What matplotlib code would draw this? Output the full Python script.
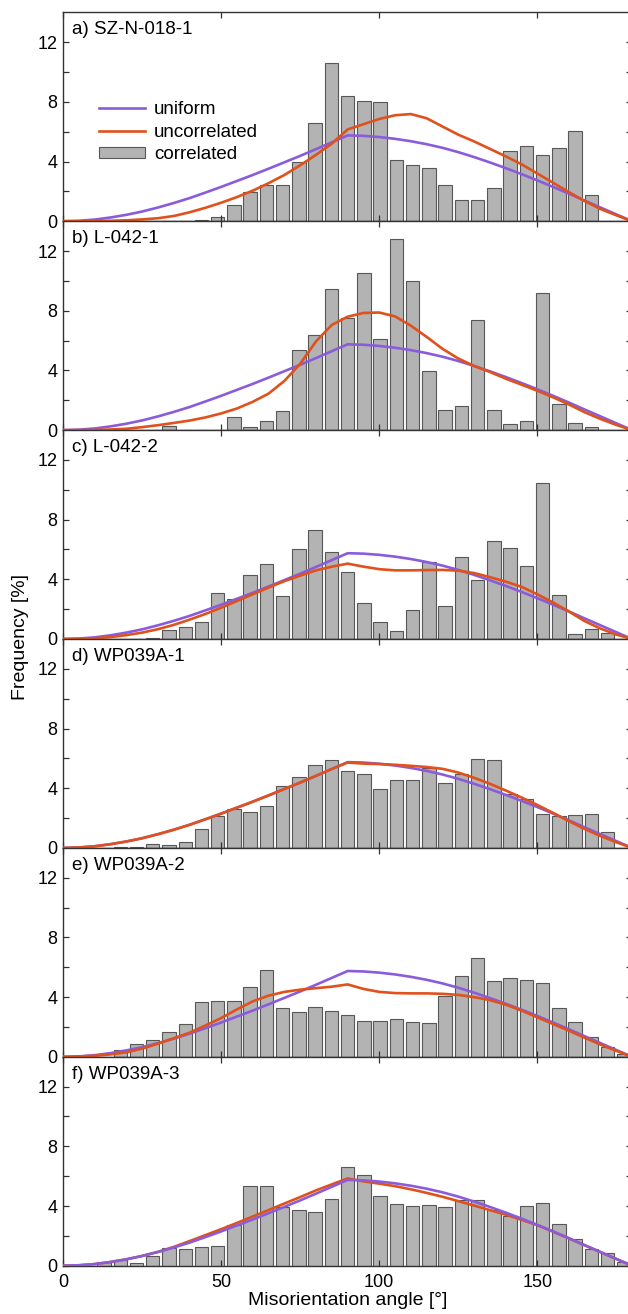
import numpy as np
import matplotlib.pyplot as plt

plt.rcParams['font.family'] = ['Liberation Sans', 'DejaVu Sans']

# 35 bins over 0-180 deg
nbins = 35
binw = 180 / nbins
centres = (np.arange(nbins) + 0.5) * binw
angles = np.arange(0, 181, 5)

panel_labels = ['a) SZ-N-018-1', 'b) L-042-1', 'c) L-042-2',
                'd) WP039A-1', 'e) WP039A-2', 'f) WP039A-3']

# uniform (random) distribution, same for all samples
uniform = [0, 0.03, 0.11, 0.25, 0.43, 0.65, 0.92, 1.22, 1.55, 1.92, 2.3, 2.7,
           3.1, 3.52, 3.95, 4.38, 4.83, 5.29, 5.75, 5.72, 5.64, 5.52, 5.36, 5.16,
           4.92, 4.63, 4.3, 3.94, 3.56, 3.16, 2.74, 2.3, 1.85, 1.38, 0.92, 0.46, 0]

# uncorrelated distributions
uncorr_a = [0, 0, 0.01, 0.03, 0.06, 0.12, 0.2, 0.35, 0.6, 0.9, 1.24, 1.62, 2.05,
            2.55, 3.1, 3.75, 4.45, 5.2, 6.15, 6.5, 6.85, 7.1, 7.18, 6.9, 6.35,
            5.8, 5.35, 4.85, 4.35, 3.82, 3.2, 2.58, 1.95, 1.35, 0.82, 0.4, 0]
uncorr_b = [0, 0, 0.01, 0.04, 0.09, 0.2, 0.33, 0.48, 0.64, 0.85, 1.12, 1.45, 1.9,
            2.45, 3.3, 4.45, 5.95, 7.05, 7.6, 7.85, 7.88, 7.62, 7.0, 6.25, 5.45,
            4.8, 4.3, 3.9, 3.45, 3.05, 2.64, 2.2, 1.72, 1.2, 0.75, 0.35, 0]
uncorr_c = [0, 0.01, 0.05, 0.13, 0.26, 0.43, 0.66, 0.95, 1.3, 1.68, 2.1, 2.55, 3.0,
            3.45, 3.88, 4.25, 4.6, 4.85, 5.05, 4.85, 4.68, 4.6, 4.6, 4.62, 4.63,
            4.58, 4.42, 4.15, 3.85, 3.5, 3.0, 2.45, 1.85, 1.2, 0.7, 0.3, 0]
uncorr_d = [0, 0.03, 0.11, 0.25, 0.43, 0.65, 0.92, 1.22, 1.55, 1.92, 2.3, 2.7, 3.1,
            3.52, 3.95, 4.38, 4.83, 5.29, 5.72, 5.65, 5.62, 5.57, 5.5, 5.42, 5.3,
            5.05, 4.7, 4.3, 3.85, 3.38, 2.88, 2.35, 1.8, 1.27, 0.8, 0.38, 0]
uncorr_e = [0, 0.02, 0.07, 0.16, 0.3, 0.55, 0.88, 1.25, 1.62, 2.1, 2.6, 3.18, 3.72,
            4.1, 4.35, 4.5, 4.6, 4.7, 4.85, 4.55, 4.35, 4.27, 4.25, 4.25, 4.22,
            4.15, 4.0, 3.8, 3.5, 3.1, 2.65, 2.2, 1.75, 1.28, 0.82, 0.4, 0]
uncorr_f = [0, 0.03, 0.11, 0.25, 0.43, 0.66, 0.93, 1.26, 1.65, 2.05, 2.45, 2.87, 3.3,
            3.73, 4.17, 4.6, 5.05, 5.45, 5.85, 5.65, 5.5, 5.33, 5.12, 4.88, 4.62,
            4.33, 4.03, 3.73, 3.42, 3.08, 2.72, 2.28, 1.83, 1.37, 0.91, 0.45, 0]

# correlated (measured) histograms
corr_a = [0, 0, 0, 0, 0, 0, 0, 0, 0.05, 0.25, 1.08, 1.93, 2.43, 2.43, 3.98, 6.58,
          10.63, 8.36, 8.07, 8.0, 4.09, 3.78, 3.57, 2.45, 1.44, 1.39, 2.2, 4.7,
          5.01, 4.43, 4.88, 6.04, 1.75, 0, 0]
corr_b = [0, 0, 0, 0, 0, 0, 0.25, 0.04, 0, 0, 0.87, 0.18, 0.63, 1.25, 5.37, 6.36,
          9.45, 7.5, 10.52, 6.13, 12.83, 10.0, 3.98, 1.34, 1.59, 7.39, 1.34, 0.43,
          0.6, 9.16, 1.72, 0.45, 0.22, 0, 0]
corr_c = [0, 0, 0, 0, 0, 0.07, 0.6, 0.83, 1.14, 3.06, 2.7, 4.31, 5.0, 2.88, 6.03,
          7.33, 5.83, 4.49, 2.39, 1.12, 0.54, 1.94, 5.18, 2.21, 5.52, 3.93, 6.57,
          6.12, 4.89, 10.46, 2.95, 0.34, 0.65, 0.38, 0]
corr_d = [0, 0, 0, 0.05, 0.07, 0.25, 0.18, 0.42, 1.27, 2.15, 2.61, 2.39, 2.82, 4.18,
          4.72, 5.54, 5.88, 5.18, 4.96, 3.93, 4.54, 4.54, 5.34, 4.34, 4.96, 5.99,
          5.88, 3.58, 3.26, 2.3, 2.15, 2.23, 2.26, 1.07, 0]
corr_e = [0, 0, 0, 0.47, 0.85, 1.12, 1.68, 2.23, 3.64, 3.73, 3.75, 4.65, 5.79, 3.26,
          2.99, 3.33, 3.08, 2.82, 2.39, 2.37, 2.5, 2.35, 2.28, 4.07, 5.39, 6.61,
          5.07, 5.3, 5.16, 4.96, 3.28, 2.35, 1.34, 0.67, 0.2]
corr_f = [0, 0, 0.25, 0.38, 0.2, 0.64, 1.16, 1.09, 1.27, 1.31, 2.76, 5.35, 5.35,
          3.95, 3.75, 3.6, 4.5, 6.6, 6.1, 4.65, 4.16, 4.02, 4.04, 3.93, 4.4, 4.4,
          3.76, 3.31, 3.98, 4.22, 2.82, 1.8, 1.11, 0.87, 0.22]

corr = [corr_a, corr_b, corr_c, corr_d, corr_e, corr_f]
uncorr = [uncorr_a, uncorr_b, uncorr_c, uncorr_d, uncorr_e, uncorr_f]

purple = '#8a5cdc'
orange = '#e0511c'
spine_col = '#333333'

W, H = 628, 1314
fig = plt.figure(figsize=(W / 100, H / 100), dpi=100)

left = 63.3 / W
width = (632 - 63.3) / W
top_px = 12.3
bot_px = 1265.7
ph = (bot_px - top_px) / 6

axes = []
for k in range(6):
    y0 = 1 - (top_px + (k + 1) * ph) / H
    ax = fig.add_axes([left, y0, width, ph / H])
    axes.append(ax)

    ax.bar(centres, corr[k], width=binw * 0.82, color='#b3b3b3',
           edgecolor='#575757', linewidth=0.8, zorder=1, label='correlated')
    if k == 5:
        zo_u, zo_c = 4, 3
    else:
        zo_u, zo_c = 3, 4
    ax.plot(angles, uniform, color=purple, lw=1.9, zorder=zo_u, label='uniform')
    ax.plot(angles, uncorr[k], color=orange, lw=1.9, zorder=zo_c, label='uncorrelated')

    ax.set_xlim(0, 180)
    ax.set_ylim(0, 14)
    ax.set_xticks([0, 50, 100, 150])
    ax.set_yticks([0, 4, 8, 12])
    ax.set_yticks([2, 6, 10], minor=True)
    ax.tick_params(axis='both', which='both', direction='in', length=4.5,
                   width=0.9, color=spine_col, labelsize=13)
    ax.tick_params(axis='x', top=True, bottom=True, pad=6)
    ax.tick_params(axis='y', which='both', left=True, right=True, pad=4)
    for s in ax.spines.values():
        s.set_color(spine_col)
        s.set_linewidth(1.0)
    if k < 5:
        ax.tick_params(axis='x', labelbottom=False)

    ax.text(0.016, 1 - 17.5 / ph, panel_labels[k], transform=ax.transAxes,
            fontsize=13.5, ha='left', va='center')

# legend in the first panel
h, l = axes[0].get_legend_handles_labels()
order = [l.index('uniform'), l.index('uncorrelated'), l.index('correlated')]
axes[0].legend([h[i] for i in order], [l[i] for i in order],
               loc='upper left', bbox_to_anchor=(0.062, 0.575), frameon=False,
               fontsize=13.5, handlelength=2.5, handletextpad=0.45,
               labelspacing=0.3, borderpad=0, borderaxespad=0, handleheight=0.55)

axes[-1].set_xlabel('Misorientation angle [°]', fontsize=14, labelpad=1)
fig.text(21 / W, 1 - 637 / H, 'Frequency [%]', rotation=90, fontsize=14,
         ha='center', va='center')

fig.savefig('out.png', dpi=100)
